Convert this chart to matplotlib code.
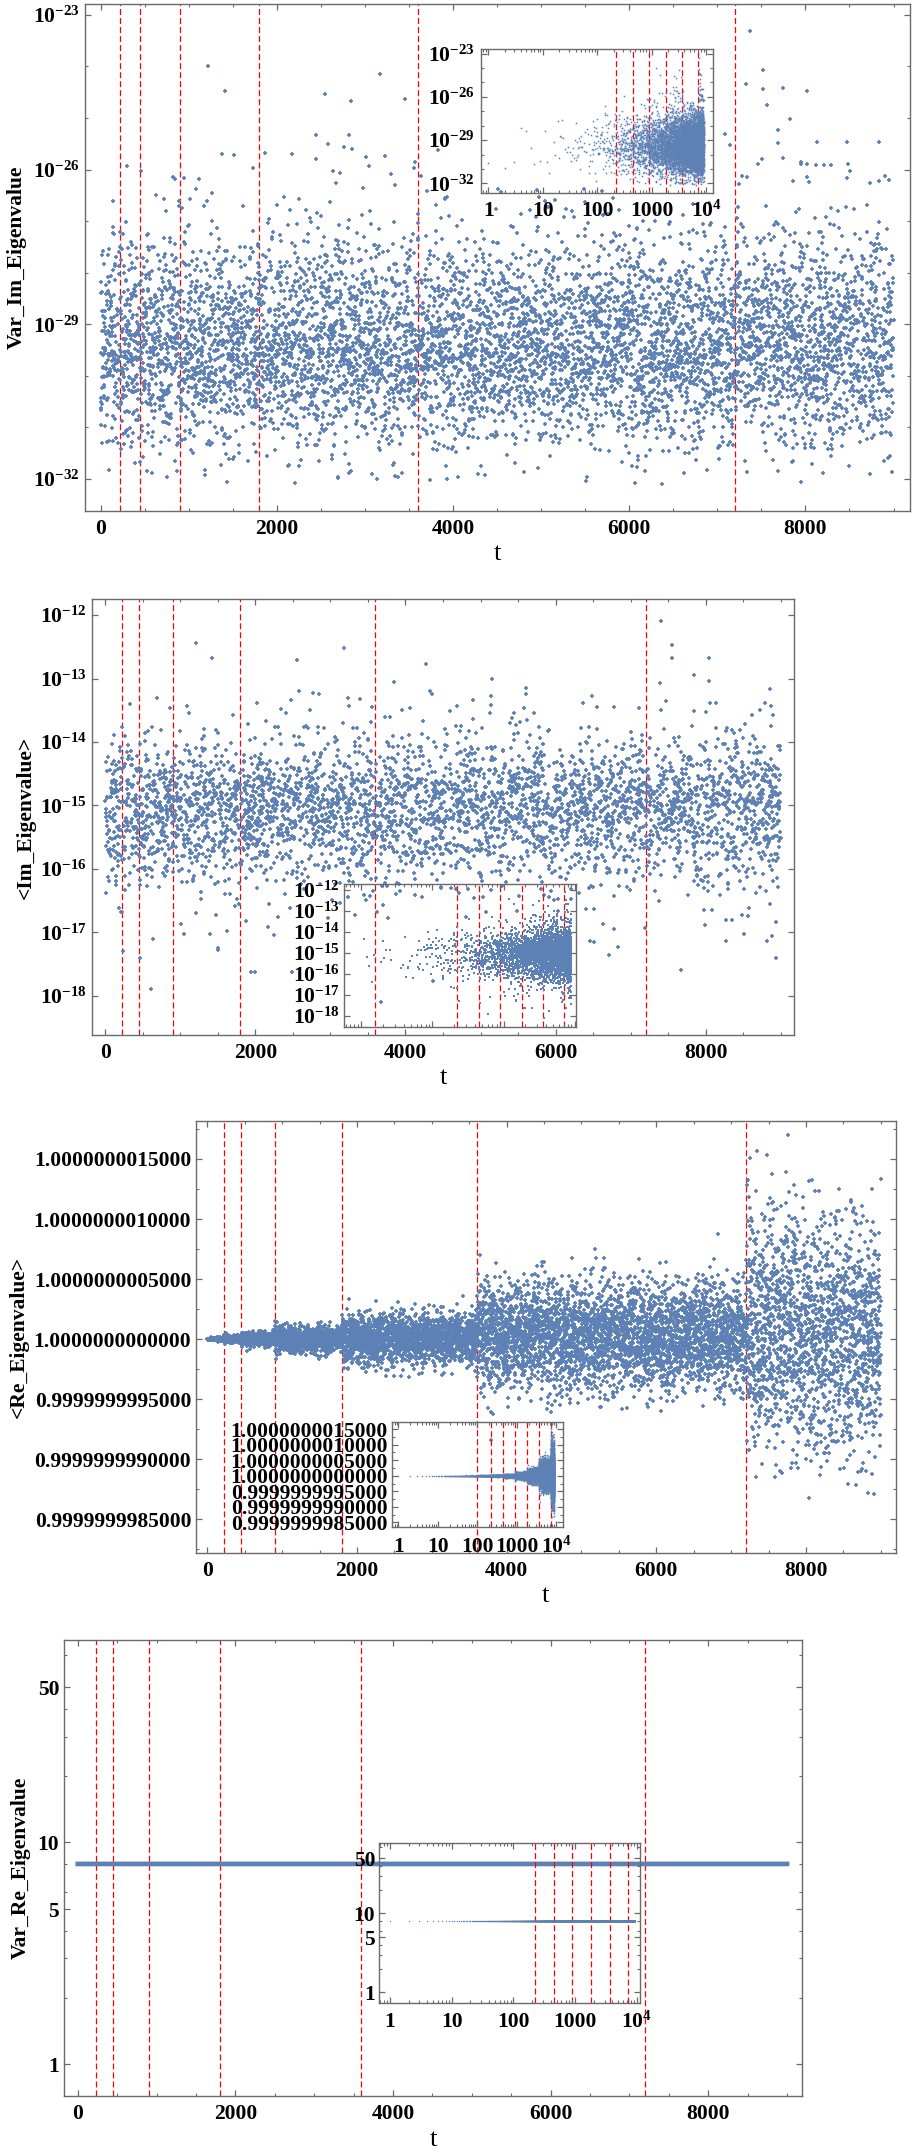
import numpy as np
import matplotlib
matplotlib.use("Agg")
import matplotlib.pyplot as plt
from matplotlib.ticker import FixedLocator, FuncFormatter, NullFormatter, MultipleLocator, LogLocator

plt.rcParams['font.family'] = ['Liberation Serif', 'DejaVu Serif']
plt.rcParams['font.weight'] = 'bold'
plt.rcParams['axes.labelweight'] = 'bold'
plt.rcParams['mathtext.fontset'] = 'custom'
plt.rcParams['mathtext.rm'] = 'Liberation Serif:bold'
plt.rcParams['mathtext.bf'] = 'Liberation Serif:bold'
plt.rcParams['mathtext.it'] = 'Liberation Serif:bold:italic'
plt.rcParams['mathtext.default'] = 'rm'
plt.rcParams['lines.scale_dashes'] = False

# ---------------- data ----------------
T_STEPS = np.arange(1, 9001)                      # time steps t = 1..9000
doubling_lines = [225, 450, 900, 1800, 3600, 7200]  # red dashed marker times

# Panel 1: Var_Im_Eigenvalue (log10 values). Cloud statistics
p1_count = 6800
p1_center = -29.45
p1_sd_up = 1.1
p1_sd_down = 0.95
p1_floor = -32.1
p1_out_t = [7376, 1215, 3173, 7522, 1414, 7522, 7741, 7329, 8020, 2543, 2842, 3452, 7568,
            7821, 2443, 2821, 7688, 7688, 8471, 8836, 2576, 2762, 2855, 7144, 1381, 1514,
            2178, 3227, 7509, 2443, 3007, 7741, 305, 3041, 7953, 8020, 8119, 8285, 8206,
            7462, 3552, 1733, 458, 7276, 7342, 8471, 2722, 8020, 8949, 8836, 8737, 7854,
            8046, 850, 949, 1115, 3346, 2676]
p1_out_log = [-23.31, -24.0, -24.15, -24.06, -24.48, -24.43, -24.42, -24.34, -24.47, -24.53,
              -24.67, -24.63, -24.74, -25.02, -25.33, -25.33, -25.23, -25.49, -25.47, -25.46,
              -25.51, -25.56, -25.6, -25.52, -25.70, -25.72, -25.70, -25.74, -25.79, -25.79,
              -25.76, -25.78, -25.93, -25.93, -25.86, -25.89, -25.91, -25.91, -25.92, -25.89,
              -25.97, -25.97, -26.03, -26.12, -26.15, -26.16, -26.07, -26.14, -26.2, -26.23,
              -26.26, -26.23, -26.24, -26.19, -26.17, -26.19, -26.30, -26.26]

# Panel 2: <Im_Eigenvalue> (log10 values)
p2_count = 4000
p2_center = -15.05
p2_sd_up = 0.55
p2_sd_down = 0.62
p2_out_t = [7399, 1210, 3177, 7547, 7547, 1420, 2560, 8039, 4277, 7844, 5151, 3848, 5604,
            5604, 2576, 2771, 2849, 4355, 8859, 687, 3239, 4894, 5136, 2474, 5136, 7477,
            8062, 8132, 6361, 6775, 6557, 7118, 858, 3559, 4059, 4589, 4683, 5581, 2732,
            7399, 328, 1116, 1701, 8000, 8898,
            219, 234, 609, 468, 640, 1054, 1389, 1506, 1506, 1623, 1873, 1936, 1990, 2482,
            2248, 2170, 6455, 6712, 6829, 6634, 7672, 7985, 8273, 8273, 8507, 8820, 8882,
            8937, 8937, 8664, 8078, 3668]
p2_out_log = [-12.09, -12.44, -12.52, -12.47, -12.67, -12.68, -12.71, -12.68, -12.77, -12.95,
              -13.0, -13.06, -13.15, -13.25, -13.2, -13.22, -13.25, -13.24, -13.17, -13.3,
              -13.31, -13.34, -13.28, -13.33, -13.42, -13.36, -13.39, -13.39, -13.39, -13.45,
              -13.45, -13.46, -13.47, -13.45, -13.47, -13.51, -13.44, -13.46, -13.49, -13.49,
              -13.4, -13.54, -13.57, -13.52, -13.58,
              -16.68, -17.3, -17.9, -17.4, -17.1, -17.03, -17.03, -17.28, -17.25, -16.98,
              -16.83, -17.62, -17.62, -17.62, -17.05, -16.92, -17.14, -17.36, -17.24, -16.87,
              -17.6, -16.89, -17.14, -16.81, -17.03, -17.14, -17.06, -17.41, -16.84, -16.38,
              -16.65, -18.1]

# Panel 3: <Re_Eigenvalue> - 1, in units of 1e-10; spread per segment between marker times
p3_seg_edges = [1, 50, 120, 225, 450, 900, 1800, 3600, 7200, 9001]
p3_seg_sd = [0.02, 0.05, 0.08, 0.15, 0.28, 0.55, 1.05, 2.2, 5.0]
p3_seg_mean = [0.0, 0.0, 0.0, 0.0, 0.0, 0.0, 0.1, 0.3, 0.8]

# Panel 4: Var_Re_Eigenvalue, constant level
p4_level = 8.0

# ---------------- build point clouds ----------------
rng = np.random.default_rng(20240611)


def two_sided(n, center, sd_up, sd_down):
    z = rng.standard_normal(n)
    return center + np.where(z > 0, z * sd_up, z * sd_down)


t1 = np.sort(rng.choice(T_STEPS, p1_count, replace=False))
v1 = two_sided(p1_count, p1_center, p1_sd_up, p1_sd_down)
bad = v1 < p1_floor
while bad.any():
    v1[bad] = two_sided(bad.sum(), p1_center, p1_sd_up, p1_sd_down)
    bad = v1 < p1_floor
t1 = np.concatenate([t1, p1_out_t])
y1 = 10.0 ** np.concatenate([v1, p1_out_log])

t2 = np.sort(rng.choice(T_STEPS, p2_count, replace=False))
v2 = two_sided(p2_count, p2_center, p2_sd_up, p2_sd_down)
t2 = np.concatenate([t2, p2_out_t])
y2 = 10.0 ** np.concatenate([v2, p2_out_log])

t3 = T_STEPS
y3 = np.empty(len(t3))
for i in range(len(p3_seg_sd)):
    m = (t3 >= p3_seg_edges[i]) & (t3 < p3_seg_edges[i + 1])
    y3[m] = p3_seg_mean[i] + p3_seg_sd[i] * rng.standard_normal(m.sum())

t4 = T_STEPS
y4 = np.full(len(t4), p4_level)

# ---------------- figure ----------------
W, H = 913, 2155
fig = plt.figure(figsize=(W / 100, H / 100), dpi=100)
BLUE = '#5E81B5'
FRAME = '#6a6a6a'
FS = 15.5


def add_ax(l, r, t, b):
    return fig.add_axes([l / W, 1 - b / H, (r - l) / W, (b - t) / H])


def style(ax, ypad=3.5, xpad=6):
    for s in ax.spines.values():
        s.set_color(FRAME)
        s.set_linewidth(1.0)
    ax.tick_params(which='both', direction='in', top=True, right=True, color=FRAME, labelsize=FS)
    ax.tick_params(which='major', length=4.5, width=0.9)
    ax.tick_params(which='minor', length=2.5, width=0.8)
    ax.tick_params(axis='y', pad=ypad)
    ax.tick_params(axis='x', pad=xpad)


def red_lines(ax):
    for x in doubling_lines:
        ax.axvline(x, color='red', lw=0.9, ls=(0, (4.3, 2.2)), zorder=1)


def main_x(ax, xlim):
    ax.set_xlim(*xlim)
    ax.xaxis.set_major_locator(FixedLocator([0, 2000, 4000, 6000, 8000]))
    ax.xaxis.set_minor_locator(MultipleLocator(500))
    ax.set_xlabel('t', fontsize=19, fontweight='normal', labelpad=3)


def pow_fmt(v, pos=None):
    e = int(round(np.log10(v)))
    return r'$10^{%d}$' % e


def inset_logx(ax, lo, hi, labels=True):
    ax.set_xscale('log')
    ax.set_xlim(10 ** lo, 10 ** hi)
    ax.xaxis.set_major_locator(FixedLocator([1, 10, 100, 1000, 10000]))
    ax.xaxis.set_minor_locator(LogLocator(base=10, subs=np.arange(2, 10), numticks=20))
    ax.xaxis.set_minor_formatter(NullFormatter())
    if labels:
        ax.xaxis.set_major_formatter(FuncFormatter(
            lambda v, p: {1: '1', 10: '10', 100: '100', 1000: '1000'}.get(int(round(v)), r'$10^{4}$')))
    else:
        ax.xaxis.set_major_formatter(NullFormatter())


MK = dict(ls='none', marker='+', ms=3.5, mew=1.25, color=BLUE, zorder=2)
IMK = dict(ls='none', marker='s', ms=1.1, mew=0, color=BLUE, zorder=2)

# ----- Panel 1 -----
ax1 = add_ax(85, 910, 4, 511)
ax1.plot(t1, y1, **MK)
red_lines(ax1)
ax1.set_yscale('log')
ax1.set_ylim(10 ** -32.62, 10 ** -22.79)
ax1.yaxis.set_major_locator(FixedLocator([1e-32, 1e-29, 1e-26, 1e-23]))
ax1.yaxis.set_minor_locator(FixedLocator([10.0 ** k for k in range(-33, -22)]))
ax1.yaxis.set_major_formatter(FuncFormatter(pow_fmt))
ax1.yaxis.set_minor_formatter(NullFormatter())
main_x(ax1, (-177, 9187))
ax1.set_ylabel('Var_Im_Eigenvalue', fontsize=FS, fontweight='bold', labelpad=5)
style(ax1)

in1 = add_ax(480.7, 712.7, 49.3, 192.7)
in1.patch.set_facecolor('none')
in1.plot(t1, y1, **IMK)
red_lines(in1)
inset_logx(in1, -0.14, 4.12)
in1.set_yscale('log')
in1.set_ylim(10 ** -32.65, 10 ** -22.7)
in1.yaxis.set_major_locator(FixedLocator([1e-32, 1e-29, 1e-26, 1e-23]))
in1.yaxis.set_minor_locator(FixedLocator([10.0 ** k for k in range(-33, -22)]))
in1.yaxis.set_major_formatter(FuncFormatter(pow_fmt))
in1.yaxis.set_minor_formatter(NullFormatter())
style(in1, ypad=4, xpad=6)

# ----- Panel 2 -----
ax2 = add_ax(92, 794, 599.3, 1035)
ax2.plot(t2, y2, **MK)
red_lines(ax2)
ax2.set_yscale('log')
ax2.set_ylim(10 ** -18.62, 10 ** -11.75)
ax2.yaxis.set_major_locator(FixedLocator([10.0 ** k for k in range(-18, -11)]))
ax2.yaxis.set_minor_locator(FixedLocator([]))
ax2.yaxis.set_major_formatter(FuncFormatter(pow_fmt))
ax2.yaxis.set_minor_formatter(NullFormatter())
main_x(ax2, (-177, 9177))
ax2.set_ylabel('<Im_Eigenvalue>', fontsize=FS, fontweight='bold', labelpad=3)
style(ax2)

in2 = add_ax(344.3, 576, 884, 1027.3)
in2.patch.set_facecolor('none')
in2.plot(t2, y2, **dict(IMK, ms=1.5))
red_lines(in2)
inset_logx(in2, 0.76, 4.02, labels=False)
in2.set_yscale('log')
in2.set_ylim(10 ** -18.54, 10 ** -11.73)
in2.yaxis.set_major_locator(FixedLocator([10.0 ** k for k in range(-18, -11)]))
in2.yaxis.set_minor_locator(FixedLocator([]))
in2.yaxis.set_major_formatter(FuncFormatter(pow_fmt))
in2.yaxis.set_minor_formatter(NullFormatter())
style(in2, ypad=3)

# ----- Panel 3 -----
re_fmt = FuncFormatter(lambda v, p: '%.13f' % (1.0 + v * 1e-10))
ax3 = add_ax(196, 895.5, 1120.5, 1553)
ax3.plot(t3, y3, **MK)
red_lines(ax3)
ax3.set_ylim(-17.8, 18.2)
ax3.yaxis.set_major_locator(FixedLocator([-15, -10, -5, 0, 5, 10, 15]))
ax3.yaxis.set_minor_locator(MultipleLocator(2.5))
ax3.yaxis.set_major_formatter(re_fmt)
main_x(ax3, (-150, 9195))
ax3.set_ylabel('<Re_Eigenvalue>', fontsize=FS, fontweight='bold', labelpad=3)
style(ax3)

in3 = add_ax(391.7, 563.3, 1421.7, 1527.3)
in3.patch.set_facecolor('none')
in3.plot(t3, y3, **dict(IMK, ms=1.0))
red_lines(in3)
inset_logx(in3, -0.17, 4.18)
in3.set_ylim(-16.6, 17.4)
in3.yaxis.set_major_locator(FixedLocator([-15, -10, -5, 0, 5, 10, 15]))
in3.yaxis.set_minor_locator(MultipleLocator(2.5))
in3.yaxis.set_major_formatter(re_fmt)
style(in3, ypad=3, xpad=7)

# ----- Panel 4 -----
ax4 = add_ax(64, 802, 1640, 2096)
ax4.plot(t4, y4, ls='-', lw=3.4, color=BLUE, zorder=2)
red_lines(ax4)
ax4.set_yscale('log')
ax4.set_ylim(0.72, 81.7)
ax4.yaxis.set_major_locator(FixedLocator([1, 5, 10, 50]))
ax4.yaxis.set_minor_locator(FixedLocator([2, 3, 4, 6, 8, 20, 30, 40, 70]))
ax4.yaxis.set_major_formatter(FuncFormatter(lambda v, p: '%d' % round(v)))
ax4.yaxis.set_minor_formatter(NullFormatter())
main_x(ax4, (-175, 9190))
ax4.set_ylabel('Var_Re_Eigenvalue', fontsize=FS, fontweight='bold', labelpad=5)
style(ax4)

in4 = add_ax(379.3, 640, 1842.7, 2003.3)
in4.patch.set_facecolor('none')
in4.plot(t4, y4, **dict(IMK, ms=0.9))
red_lines(in4)
inset_logx(in4, -0.173, 4.05)
in4.set_yscale('log')
in4.set_ylim(0.726, 78.3)
in4.yaxis.set_major_locator(FixedLocator([1, 5, 10, 50]))
in4.yaxis.set_minor_locator(FixedLocator([2, 3, 4, 6, 8, 20, 30, 40, 70]))
in4.yaxis.set_major_formatter(FuncFormatter(lambda v, p: '%d' % round(v)))
in4.yaxis.set_minor_formatter(NullFormatter())
style(in4, ypad=3)

for ax in fig.axes:
    for lab in ax.get_xticklabels() + ax.get_yticklabels():
        lab.set_fontweight('bold')

fig.savefig('out.png', dpi=100)
